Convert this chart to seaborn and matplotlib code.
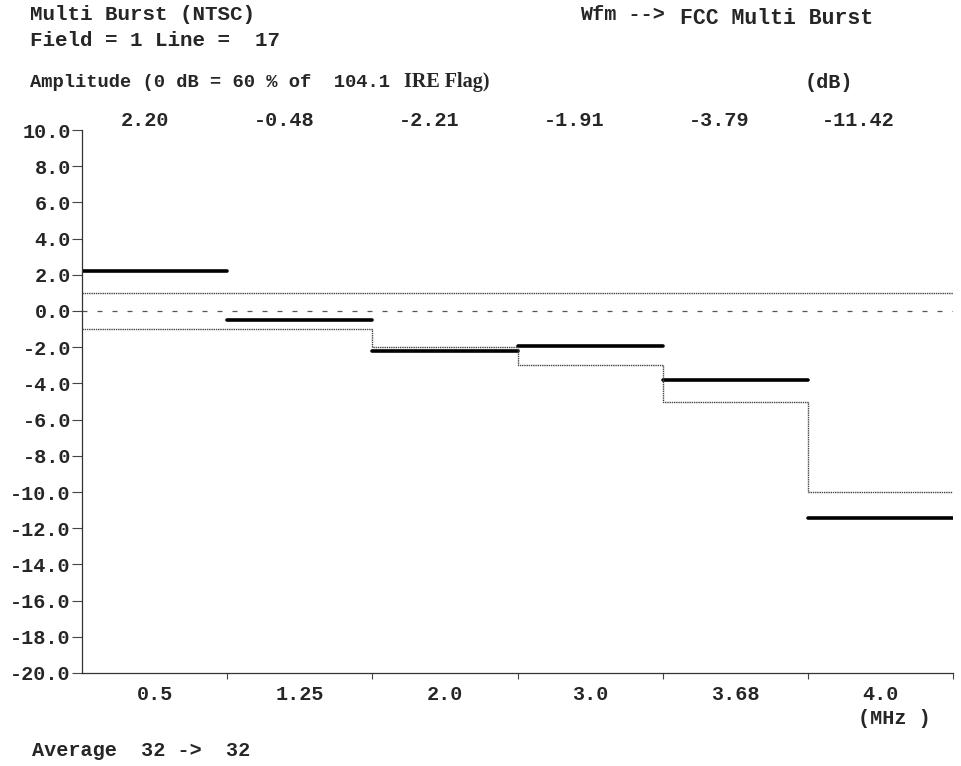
import numpy as np
import pandas as pd
import matplotlib
matplotlib.use("Agg")
import matplotlib.pyplot as plt
import matplotlib.transforms as mtransforms
import seaborn as sns

# ---- data ----
freq_labels = ["0.5", "1.25", "2.0", "3.0", "3.68", "4.0"]
measured_db = [2.20, -0.48, -2.21, -1.91, -3.79, -11.42]
value_labels = ["2.20", "-0.48", "-2.21", "-1.91", "-3.79", "-11.42"]
upper_limit_db = [1.0, 1.0, 1.0, 1.0, 1.0, 1.0]
lower_limit_db = [-1.0, -1.0, -2.0, -3.0, -5.0, -10.0]
y_ticks = [10.0, 8.0, 6.0, 4.0, 2.0, 0.0, -2.0, -4.0, -6.0, -8.0, -10.0,
           -12.0, -14.0, -16.0, -18.0, -20.0]

sns.set_theme(style="white")
plt.rcParams['font.family'] = ['Liberation Mono', 'DejaVu Sans Mono']
plt.rcParams['axes.unicode_minus'] = False

FS = 14.5
fig = plt.figure(figsize=(9.61, 7.66), dpi=100)
ax = fig.add_axes([82/961, 1-673/766, (953-82)/961, (673-130)/766])

n = len(measured_db)
edges = np.arange(n + 1)

# measured segments
seg_rows = []
for i, v in enumerate(measured_db):
    seg_rows.append({"x": edges[i], "y": v, "seg": i})
    seg_rows.append({"x": edges[i + 1], "y": v, "seg": i})
seg_df = pd.DataFrame(seg_rows)
sns.lineplot(data=seg_df, x="x", y="y", units="seg", estimator=None,
             color="black", linewidth=2.6, ax=ax, legend=False)

# upper limit
up_df = pd.DataFrame({"x": edges, "y": upper_limit_db + [upper_limit_db[-1]]})
sns.lineplot(data=up_df, x="x", y="y", color="#444444", linewidth=1.0,
             linestyle=(0, (1, 0.6)), drawstyle="steps-post", ax=ax, legend=False)

# lower limit
lo_df = pd.DataFrame({"x": edges, "y": lower_limit_db + [lower_limit_db[-1]]})
sns.lineplot(data=lo_df, x="x", y="y", color="#444444", linewidth=1.0,
             linestyle=(0, (1, 0.6)), drawstyle="steps-post", ax=ax, legend=False)

# zero reference
ax.axhline(0.0, color="#555555", linewidth=0.9, linestyle=(0, (4, 8)))

ax.set_xlim(0, n)
ax.set_ylim(-20, 10)

# spines
for s in ["top", "right"]:
    ax.spines[s].set_visible(False)
for s in ["left", "bottom"]:
    ax.spines[s].set_linestyle((0, (1, 1)))
    ax.spines[s].set_linewidth(0.9)
    ax.spines[s].set_color("#333333")

ax.set_yticks(y_ticks)
ax.set_yticklabels([f"{t:.1f}" for t in y_ticks], fontsize=FS, fontweight="bold")
ax.tick_params(axis="y", direction="out", length=7, width=0.8, color="#444444",
               pad=1, left=True)

ax.set_xticks(edges[:-1] + 0.5)
ax.set_xticklabels(freq_labels, fontsize=FS, fontweight="bold")
ax.set_xticks(edges[1:], minor=True)
ax.tick_params(axis="x", which="major", length=0, pad=9)
ax.tick_params(axis="x", which="minor", direction="out", length=4, width=0.8,
               color="#444444", bottom=True)
ax.set_xlabel("")
ax.set_ylabel("")
ax.grid(False)

# value row above the plot
trans = mtransforms.blended_transform_factory(ax.transData, fig.transFigure)
for i, lbl in enumerate(value_labels):
    ax.text(edges[i + 1] - 0.40, 1 - 120/766, lbl, transform=trans,
            ha="right", va="center", fontsize=FS, fontweight="bold")

def ftext(x, y, s, **kw):
    fig.text(x/961, 1 - y/766, s, va=kw.pop("va", "center"),
             fontsize=kw.pop("fontsize", FS),
             fontweight=kw.pop("fontweight", "bold"), **kw)

ftext(30, 15, "Multi Burst (NTSC)", fontsize=15)
ftext(30, 40, "Field = 1 Line =  17", fontsize=15)
ftext(30, 87, "Amplitude (0 dB = 60 % of  104.1", fontsize=13.5, va="baseline")
ftext(404, 87, "IRE Flag)", family=["Liberation Serif", "DejaVu Serif"],
      fontsize=14.5, va="baseline")
ftext(580, 14, "Wfm -->")
ftext(680, 19, "FCC Multi Burst", fontsize=15.5)
ftext(805, 82, "(dB)")
ftext(858, 718, "(MHz )")
ftext(32, 751, "Average  32 ->  32")

fig.savefig("out.png", dpi=100, facecolor="white")
